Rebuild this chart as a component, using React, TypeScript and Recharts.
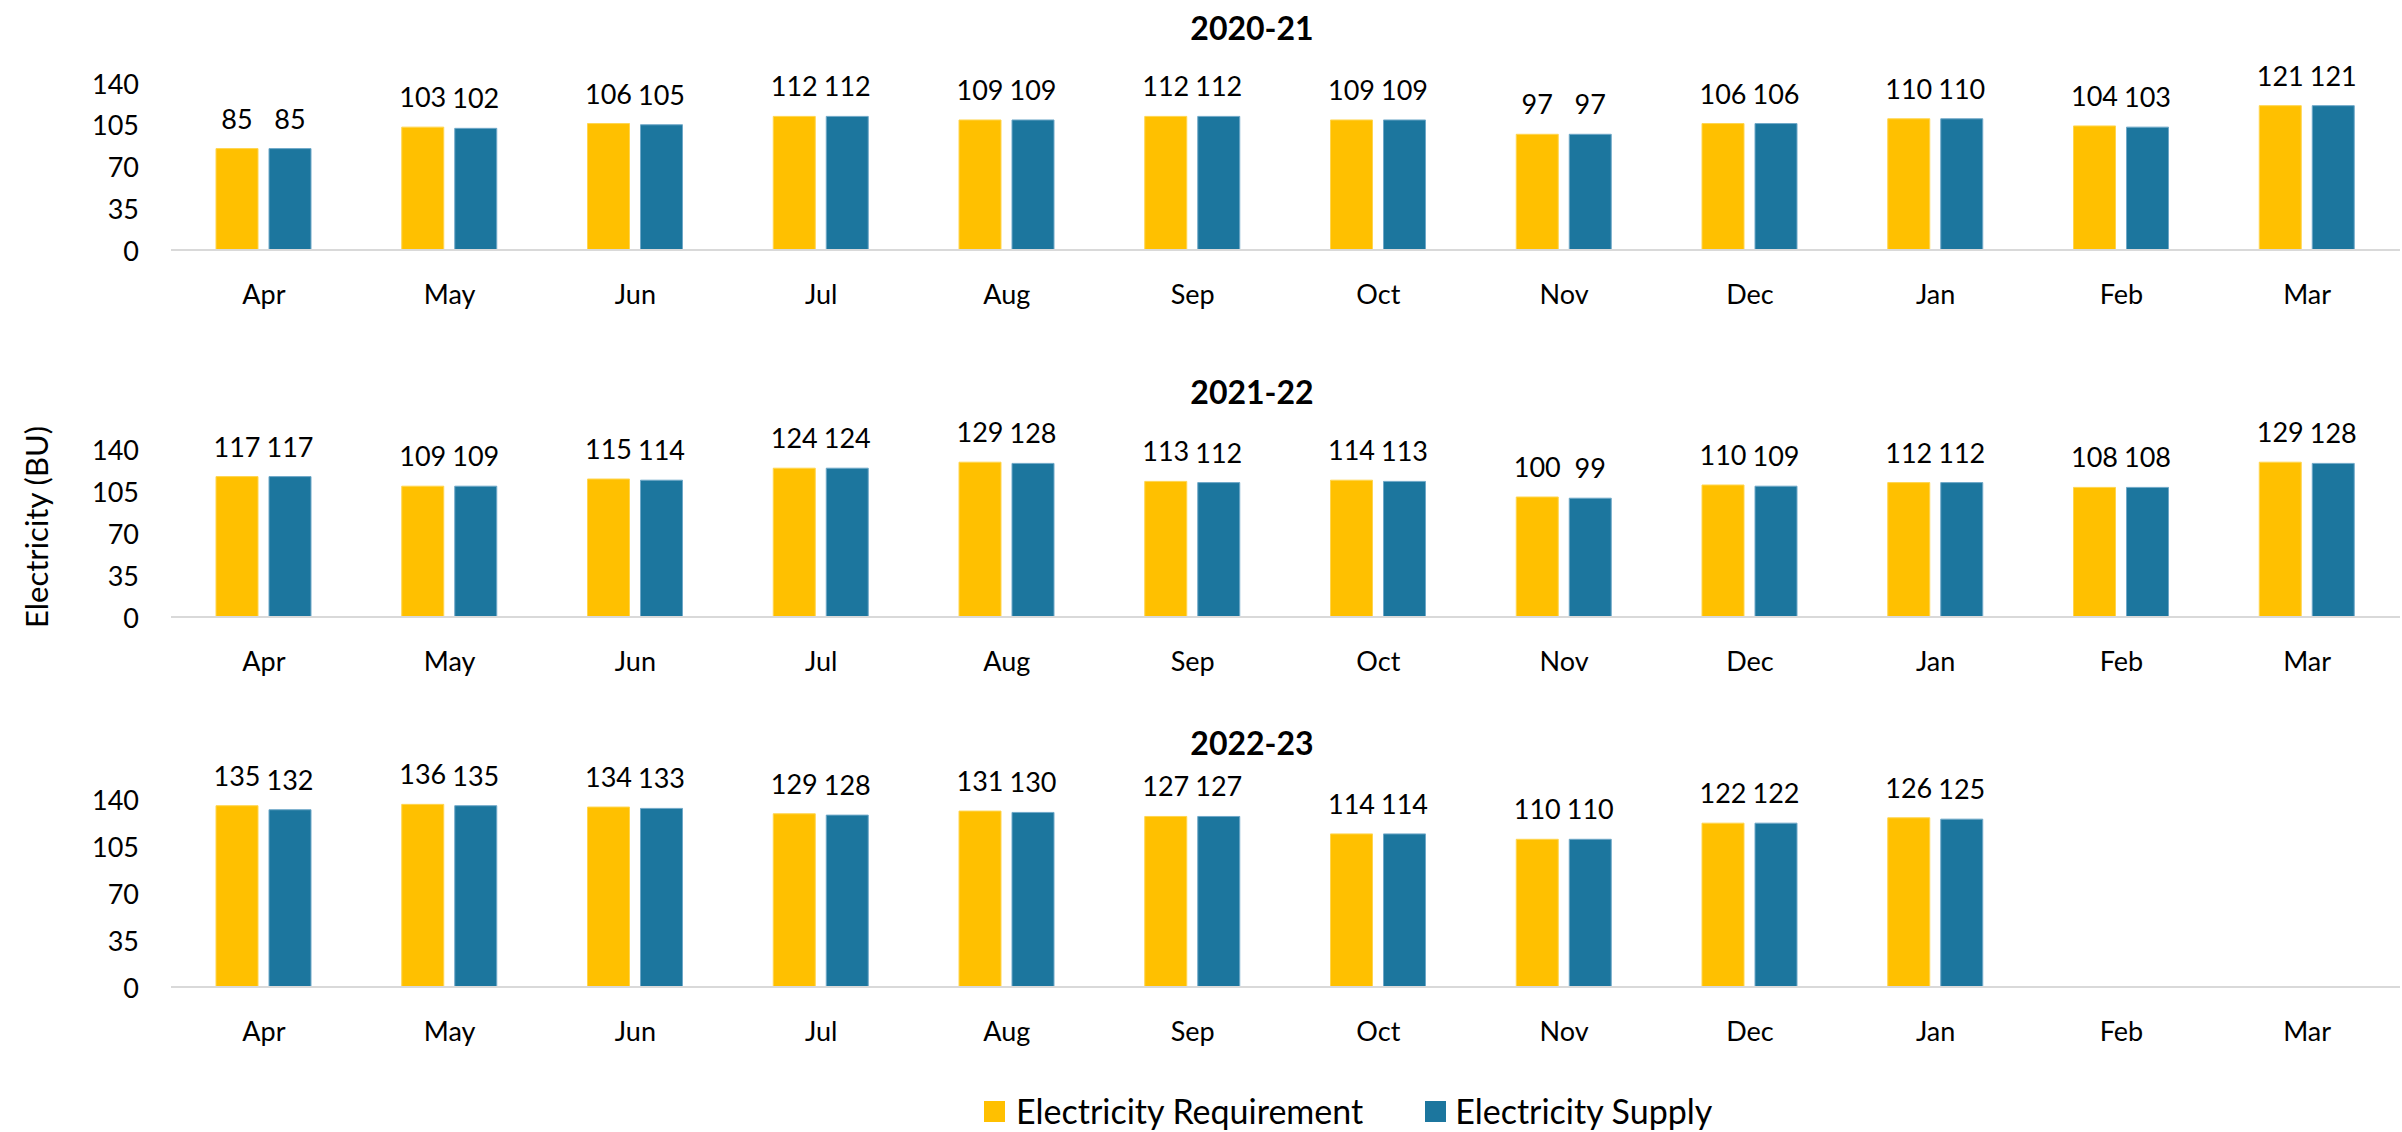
import React from 'react';
import { BarChart, Bar, XAxis, YAxis, LabelList, Legend } from 'recharts';

// Financial-year months
const months = ['Apr', 'May', 'Jun', 'Jul', 'Aug', 'Sep', 'Oct', 'Nov', 'Dec', 'Jan', 'Feb', 'Mar'];
const yTicks = [0, 35, 70, 105, 140];

// Electricity requirement / supply in billion units (BU)
const req2020 = [85, 103, 106, 112, 109, 112, 109, 97, 106, 110, 104, 121];
const sup2020 = [85, 102, 105, 112, 109, 112, 109, 97, 106, 110, 103, 121];
const req2021 = [117, 109, 115, 124, 129, 113, 114, 100, 110, 112, 108, 129];
const sup2021 = [117, 109, 114, 124, 128, 112, 113, 99, 109, 112, 108, 128];
const req2022 = [135, 136, 134, 129, 131, 127, 114, 110, 122, 126, null, null];
const sup2022 = [132, 135, 133, 128, 130, 127, 114, 110, 122, 125, null, null];

const REQ_COLOR = '#FFC000';
const SUP_COLOR = '#1C769E';
const FONT = "Lato, 'Open Sans', sans-serif";
const TEXT = '#000000';
const W = 2402;
const PLOT_LEFT = 171;
const X_AXIS_H = 1;

type Row = { month: string; req: number | null; sup: number | null };

const buildRows = (req: (number | null)[], sup: (number | null)[]): Row[] =>
  months.map((m, i) => ({ month: m, req: req[i], sup: sup[i] }));

const ValueLabel = (props: any) => {
  const { x, y, width, value } = props;
  if (value === null || value === undefined) return null;
  return (
    <text x={x + width / 2} y={y - 20} textAnchor="middle" fontSize={27} fill={TEXT} fontFamily={FONT}>
      {value}
    </text>
  );
};

const MonthTick = (props: any) => {
  const { x, y, payload } = props;
  return (
    <text x={x} y={y + 43} textAnchor="middle" dominantBaseline="central" fontSize={27} fill={TEXT} fontFamily={FONT}>
      {payload.value}
    </text>
  );
};

const ValueTick = (props: any) => {
  const { x, y, payload } = props;
  return (
    <text x={x - 32} y={y} textAnchor="end" dominantBaseline="central" fontSize={27} fill={TEXT} fontFamily={FONT}>
      {payload.value}
    </text>
  );
};

const LegendContent = () => (
  <div
    style={{
      display: 'flex',
      alignItems: 'center',
      fontFamily: FONT,
      fontSize: 34,
      lineHeight: '34px',
      height: 34,
      color: TEXT,
      paddingLeft: 984,
    }}
  >
    <span style={{ width: 21, height: 21, background: REQ_COLOR, display: 'inline-block', marginRight: 11 }} />
    <span>Electricity Requirement</span>
    <span style={{ width: 21, height: 21, background: SUP_COLOR, display: 'inline-block', marginLeft: 62, marginRight: 9 }} />
    <span>Electricity Supply</span>
  </div>
);

type PanelProps = {
  title: string;
  req: (number | null)[];
  sup: (number | null)[];
  top: number;
  height: number;
  plotTop: number;
  plotBottom: number;
  titleY: number;
  yTitle?: boolean;
  legend?: boolean;
};

const Panel = ({ title, req, sup, top, height, plotTop, plotBottom, titleY, yTitle, legend }: PanelProps) => {
  const data = buildRows(req, sup);
  return (
    <div style={{ position: 'absolute', left: 0, top, width: W, height }}>
      <BarChart
        width={W}
        height={height}
        data={data}
        margin={{ top: plotTop - top, bottom: top + height - plotBottom - X_AXIS_H, left: 0, right: 2 }}
        barSize={42}
        barGap={11}
      >
        <XAxis
          dataKey="month"
          height={X_AXIS_H}
          tick={<MonthTick />}
          tickLine={false}
          tickSize={0}
          tickMargin={0}
          axisLine={{ stroke: '#D9D9D9', strokeWidth: 2 }}
          interval={0}
        />
        <YAxis
          width={PLOT_LEFT}
          domain={[0, 140]}
          ticks={yTicks}
          tick={<ValueTick />}
          tickLine={false}
          tickSize={0}
          tickMargin={0}
          axisLine={false}
          allowDataOverflow
        />
        <Bar dataKey="req" name="Electricity Requirement" fill={REQ_COLOR} stroke="#FFD54F" strokeWidth={1} isAnimationActive={false}>
          <LabelList dataKey="req" content={<ValueLabel />} />
        </Bar>
        <Bar dataKey="sup" name="Electricity Supply" fill={SUP_COLOR} stroke="#6FA8C8" strokeWidth={1} isAnimationActive={false}>
          <LabelList dataKey="sup" content={<ValueLabel />} />
        </Bar>
        <text x={1252} y={titleY - top} textAnchor="middle" dominantBaseline="central" fontSize={32} fontWeight={700} fill={TEXT} fontFamily={FONT}>
          {title}
        </text>
        {yTitle && (
          <text
            x={36}
            y={527 - top}
            transform={`rotate(-90, 36, ${527 - top})`}
            textAnchor="middle"
            dominantBaseline="central"
            fontSize={31}
            fill={TEXT}
            fontFamily={FONT}
          >
            Electricity (BU)
          </text>
        )}
        {legend && (
          <Legend
            layout="horizontal"
            verticalAlign="middle"
            align="center"
            content={<LegendContent />}
            wrapperStyle={{ position: 'absolute', left: 0, top: 1094 - top, width: W, height: 34 }}
          />
        )}
      </BarChart>
    </div>
  );
};

export default function App() {
  return (
    <div style={{ position: 'absolute', left: 0, top: 0, width: W, height: 1132, background: '#fff', overflow: 'hidden' }}>
      <Panel title="2020-21" req={req2020} sup={sup2020} top={0} height={330} plotTop={83} plotBottom={250} titleY={27} />
      <Panel title="2021-22" req={req2021} sup={sup2021} top={330} height={370} plotTop={449} plotBottom={617} titleY={391} yTitle />
      <Panel title="2022-23" req={req2022} sup={sup2022} top={700} height={432} plotTop={799} plotBottom={987} titleY={742} legend />
    </div>
  );
}
